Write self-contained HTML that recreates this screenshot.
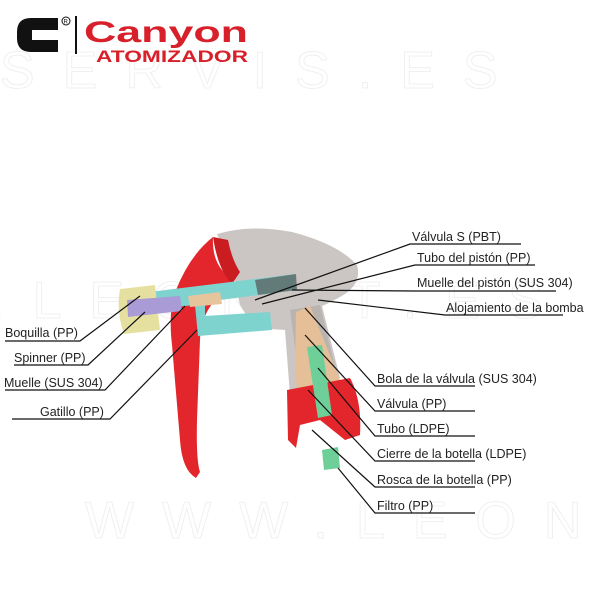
<!DOCTYPE html>
<html><head><meta charset="utf-8"><style>
body{margin:0;background:#fff;width:600px;height:600px;overflow:hidden}
svg{display:block}
text{font-family:"Liberation Sans Narrow","Liberation Sans",sans-serif}
</style></head><body>
<svg width="600" height="600" viewBox="0 0 600 600" xmlns="http://www.w3.org/2000/svg">
<g fill="none" stroke="#f0f0f0" stroke-width="1" font-size="52" font-family="Liberation Sans" letter-spacing="28">
<text x="0" y="88">SERVIS.ES</text>
<text x="85" y="538">WWW.LEONET</text>
<text x="-10" y="318">.LEONET.ES</text>
</g>
<path d="M17 32 Q17 18 31 18 L58 18 L58 30 L32 30 L32 40 L58 40 L58 52 L31 52 Q17 52 17 38 Z" fill="#111"/>
<circle cx="66" cy="21" r="4" fill="none" stroke="#111" stroke-width="1"/>
<text x="63.5" y="23.5" font-size="6" font-family="Liberation Sans" fill="#111">R</text>
<rect x="75" y="16" width="2" height="38" fill="#111"/>
<text x="84" y="42" font-size="30" font-weight="bold" font-family="Liberation Sans" fill="#d8202a" textLength="164" lengthAdjust="spacingAndGlyphs">Canyon</text>
<text x="96" y="62" font-size="17" font-weight="bold" font-family="Liberation Sans" fill="#d8202a" textLength="152" lengthAdjust="spacingAndGlyphs">ATOMIZADOR</text>

<!-- gray head -->
<path d="M217 234 Q250 224 292 232 Q338 244 357 265 Q362 282 345 294 Q332 302 322 306 L340 378 L290 395 L285 330 L255 328 L240 305 L232 270 Z" fill="#cbc6c4"/>
<path d="M290 310 L320 305 L337 375 L300 385 Z" fill="#bab4b1"/>
<!-- red trigger -->
<path d="M213 237 Q190 255 176 290 Q168 310 172 345 L180 440 Q182 470 196 478 L200 472 Q196 460 197 420 L200 340 Q200 318 215 300 Q225 290 235 285 L222 270 Q212 258 213 237 Z" fill="#e2262c"/>
<path d="M213 237 L228 240 Q232 260 240 272 L232 284 Q218 270 213 237 Z" fill="#c91d22"/>
<!-- teal piston -->
<path d="M125 295 L295 274 L297 290 L205 302 L205 316 L270 312 L272 330 L198 336 L195 305 L125 312 Z" fill="#7fd3ce"/>
<!-- nozzle -->
<path d="M120 289 L155 285 L160 330 L124 334 Q116 312 120 289 Z" fill="#e6e0a0"/>
<path d="M127 300 L180 296 L182 311 L128 317 Z" fill="#a99bd6"/>
<path d="M188 296 L220 292 L222 304 L190 307 Z" fill="#e6c59c"/>
<path d="M255 280 L296 274 L297 290 L258 295 Z" fill="#555" opacity="0.7"/>
<!-- tan valve body -->
<path d="M296 312 L310 306 L340 380 L345 420 L300 420 L295 370 Z" fill="#e4bf98"/>
<!-- red collar -->
<path d="M287 390 L350 378 Q362 400 360 435 L345 440 L320 420 L300 425 L296 448 L288 440 Z" fill="#e2262c"/>
<!-- green tube -->
<path d="M307 347 L322 345 L332 415 L318 418 Z" fill="#6fcf98"/>
<path d="M322 450 L338 447 L340 468 L324 470 Z" fill="#6fcf98"/>

<g stroke="#111" stroke-width="1.2" fill="none">
<path d="M255 300 L410 244 L521 244"/>
<path d="M262 304 L415 265 L535 265"/>
<path d="M292 290 L415 291 L556 291"/>
<path d="M318 300 L445 315 L563 315"/>
<path d="M305 308 L375 386 L475 386"/>
<path d="M305 335 L375 411 L475 411"/>
<path d="M318 368 L375 436 L475 436"/>
<path d="M308 390 L375 461 L475 461"/>
<path d="M312 430 L375 487 L475 487"/>
<path d="M338 468 L375 513 L475 513"/>
<path d="M140 296 L80 341 L5 341"/>
<path d="M145 312 L88 365 L14 365"/>
<path d="M185 306 L105 390 L5 390"/>
<path d="M197 330 L110 419 L12 419"/>
</g>
<g font-size="12.5" fill="#222">
<text x="412" y="241">Válvula S (PBT)</text>
<text x="417" y="262">Tubo del pistón (PP)</text>
<text x="417" y="287">Muelle del pistón (SUS 304)</text>
<text x="446" y="312">Alojamiento de la bomba</text>
<text x="377" y="383">Bola de la válvula (SUS 304)</text>
<text x="377" y="408">Válvula (PP)</text>
<text x="377" y="433">Tubo (LDPE)</text>
<text x="377" y="458">Cierre de la botella (LDPE)</text>
<text x="377" y="484">Rosca de la botella (PP)</text>
<text x="377" y="510">Filtro (PP)</text>
<text x="5" y="337">Boquilla (PP)</text>
<text x="14" y="362">Spinner (PP)</text>
<text x="4" y="387">Muelle (SUS 304)</text>
<text x="40" y="416">Gatillo (PP)</text>
</g>
</svg>
</body></html>
